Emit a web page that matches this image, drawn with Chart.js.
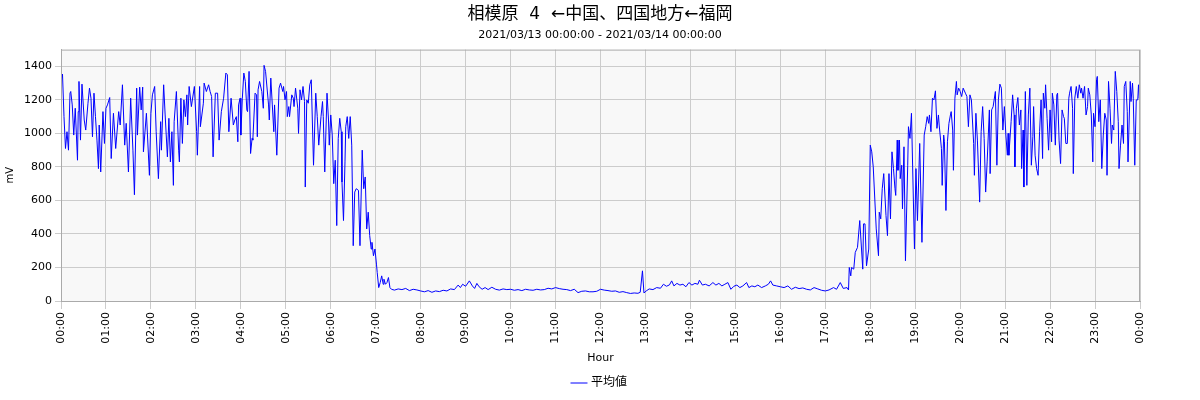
<!DOCTYPE html>
<html lang="ja">
  <head>
    <meta charset="UTF-8" />
    <title>相模原 4 ←中国、四国地方←福岡</title>
    <script src="https://cdn.jsdelivr.net/npm/chart.js@4.4.1/dist/chart.umd.min.js"></script>
    <style>
      html, body { margin: 0; padding: 0; background: #fff; }
      .wrap { width: 1200px; height: 400px; }
    </style>
  </head>
  <body>
    <div class="wrap"><canvas id="chart" width="1200" height="400"></canvas></div>
    <script>
      const chartTitle = "相模原  4  ←中国、四国地方←福岡";
      const chartSubtitle = "2021/03/13 00:00:00 - 2021/03/14 00:00:00";
      const seriesLabel = "平均値";
      const xTitle = "Hour";
      const yTitle = "mV";

      // minutes since 00:00
      const minutes = [
        0, 2, 4, 6, 8, 10, 12, 13, 15, 17, 19, 22, 23, 24, 26, 28, 31, 33, 36, 38,
        40, 42, 44, 46, 48, 50, 51, 53, 56, 58, 60, 62, 65, 67, 70, 73, 77, 79, 82, 85,
        87, 90, 93, 96, 98, 101, 102, 105, 107, 109, 110, 114, 118, 120, 122, 125, 127, 130, 133, 134,
        137, 139, 142, 144, 146, 148, 150, 151, 154, 157, 158, 160, 162, 164, 166, 168, 169, 171, 174, 178,
        181, 182, 185, 186, 190, 191, 194, 197, 199, 201, 203, 206, 209, 211, 214, 217, 220, 222, 224, 227,
        230, 232, 234, 236, 237, 239, 240, 242, 244, 246, 248, 249, 251, 253, 255, 256, 259, 261, 262, 263,
        265, 268, 270, 271, 273, 277, 278, 280, 282, 284, 285, 288, 291, 293, 296, 297, 299, 301, 302, 304,
        305, 308, 310, 311, 313, 316, 317, 319, 321, 323, 325, 326, 328, 330, 332, 334, 337, 340, 342, 344,
        347, 349, 350, 352, 355, 357, 358, 360, 362, 364, 366, 368, 370, 372, 374, 375, 377, 379, 380, 382,
        384, 386, 388, 390, 392, 394, 397, 399, 402, 404, 406, 408, 410, 412, 414, 415, 417, 419, 421, 422,
        424, 426, 428, 430, 431, 433, 435, 437, 439, 441, 445, 450, 455, 460, 465, 470, 475, 480, 485, 490,
        495, 500, 505, 510, 515, 520, 525, 530, 533, 536, 540, 545, 549, 552, 555, 558, 562, 566, 570, 575,
        580, 585, 590, 595, 600, 605, 610, 615, 620, 625, 630, 635, 640, 645, 650, 655, 660, 665, 670, 675,
        680, 685, 690, 695, 700, 705, 710, 715, 720, 725, 730, 735, 740, 745, 750, 755, 760, 765, 770, 773,
        776, 778, 781, 785, 790, 795, 800, 804, 808, 812, 815, 818, 822, 826, 830, 834, 838, 842, 846, 850,
        852, 856, 860, 865, 870, 874, 878, 882, 886, 890, 894, 898, 902, 906, 910, 915, 918, 922, 926, 930,
        935, 940, 944, 947, 950, 955, 960, 965, 970, 975, 980, 985, 990, 995, 1000, 1005, 1010, 1015, 1020, 1025,
        1031, 1035, 1040, 1044, 1049, 1051, 1052, 1054, 1055, 1058, 1060, 1063, 1066, 1070, 1071, 1073, 1075, 1078, 1080, 1082,
        1084, 1088, 1091, 1092, 1094, 1096, 1098, 1101, 1103, 1105, 1107, 1109, 1111, 1113, 1114, 1116, 1117, 1119, 1120, 1122,
        1123, 1125, 1127, 1130, 1131, 1133, 1135, 1139, 1141, 1143, 1146, 1149, 1152, 1154, 1156, 1158, 1159, 1161, 1163, 1165,
        1167, 1169, 1171, 1172, 1175, 1176, 1178, 1179, 1181, 1183, 1185, 1187, 1188, 1190, 1191, 1193, 1195, 1196, 1198, 1200,
        1202, 1204, 1207, 1209, 1211, 1213, 1215, 1218, 1219, 1221, 1223, 1226, 1228, 1230, 1232, 1234, 1236, 1239, 1240, 1242,
        1244, 1247, 1249, 1251, 1253, 1255, 1257, 1259, 1261, 1263, 1264, 1265, 1268, 1270, 1272, 1273, 1275, 1277, 1279, 1281,
        1282, 1284, 1285, 1287, 1289, 1291, 1293, 1295, 1297, 1298, 1300, 1302, 1304, 1306, 1308, 1310, 1311, 1313, 1314, 1316,
        1318, 1320, 1322, 1323, 1325, 1327, 1329, 1330, 1332, 1334, 1336, 1338, 1339, 1341, 1343, 1345, 1346, 1348, 1350, 1351,
        1353, 1355, 1357, 1359, 1361, 1362, 1364, 1366, 1368, 1370, 1371, 1373, 1375, 1377, 1378, 1380, 1382, 1383, 1385, 1387,
        1389, 1391, 1393, 1395, 1396, 1398, 1400, 1402, 1403, 1405, 1407, 1409, 1411, 1412, 1414, 1416, 1418, 1419, 1421, 1423,
        1424, 1427, 1428, 1430, 1431, 1433, 1435, 1437, 1438, 1439, 1440
      ];

      const averageMv = [
        1310, 1354, 1100, 910, 1010, 900, 1240, 1250, 1170, 990, 1150, 840, 1130, 1310, 960, 1294, 1080, 1020, 1180, 1270,
        1210, 980, 1240, 1100, 960, 790, 1050, 770, 1130, 940, 1150, 1170, 1214, 850, 1120, 910, 1130, 1050, 1290, 930,
        1060, 770, 1210, 900, 634, 1270, 990, 1276, 1140, 1276, 890, 1120, 750, 1120, 1230, 1280, 1010, 730, 1070, 900,
        1290, 1110, 860, 1090, 830, 1010, 690, 1070, 1250, 900, 830, 1210, 940, 1200, 1100, 1230, 1050, 1280, 1160, 1280,
        1010, 870, 1280, 1040, 1180, 1300, 1250, 1290, 1250, 1220, 860, 1240, 1240, 960, 1130, 1210, 1360, 1350, 1010, 1210,
        1050, 1080, 1100, 950, 1170, 1210, 990, 1210, 1360, 1310, 1140, 1130, 1370, 880, 970, 960, 1240, 1230, 980, 1260,
        1310, 1250, 1150, 1406, 1370, 1170, 1080, 1330, 1170, 1010, 1170, 870, 1270, 1300, 1250, 1280, 1200, 1250, 1100, 1160,
        1100, 1230, 1210, 1160, 1270, 1150, 1000, 1260, 1200, 1280, 1190, 680, 1200, 1180, 1290, 1320, 810, 1240, 1100, 930,
        1100, 1190, 1100, 770, 1240, 1080, 930, 1110, 990, 700, 840, 450, 970, 1090, 1010, 710, 480, 830, 1040, 1100,
        970, 1100, 930, 330, 650, 670, 660, 330, 900, 670, 740, 430, 530, 390, 310, 350, 270, 310, 220, 170,
        80, 110, 150, 100, 130, 100, 110, 140, 80, 70, 65, 72, 68, 75, 62, 70, 66, 60, 55, 62,
        52, 60, 56, 64, 60, 72, 68, 95, 80, 100, 88, 120, 90, 75, 105, 85, 70, 80, 68, 82,
        70, 65, 72, 68, 70, 64, 68, 62, 70, 66, 64, 70, 66, 68, 76, 72, 80, 74, 70, 68,
        62, 70, 50, 58, 60, 55, 55, 58, 70, 65, 62, 58, 60, 52, 56, 50, 45, 48, 46, 52,
        180, 48, 60, 72, 68, 80, 76, 100, 88, 96, 120, 90, 105, 95, 100, 85, 110, 95, 105, 100,
        124, 95, 100, 90, 110, 95, 105, 90, 100, 110, 70, 88, 95, 80, 90, 110, 80, 90, 85, 95,
        80, 90, 100, 120, 95, 90, 85, 80, 90, 70, 82, 74, 78, 70, 66, 80, 72, 64, 60, 66,
        80, 70, 110, 75, 80, 66, 200, 150, 200, 190, 290, 320, 480, 190, 460, 460, 210, 310, 930, 890,
        800, 430, 270, 530, 490, 670, 760, 510, 390, 760, 490, 890, 790, 670, 630, 960, 780, 960, 730, 810,
        550, 920, 240, 810, 1040, 970, 1120, 310, 790, 480, 940, 350, 990, 1040, 1100, 1060, 1110, 1010, 1210, 1200,
        1254, 1030, 1110, 1050, 910, 690, 990, 950, 540, 950, 1060, 1110, 1130, 1020, 780, 1210, 1310, 1230, 1270, 1250,
        1220, 1270, 1240, 1220, 1040, 1230, 1200, 940, 750, 1120, 960, 590, 1010, 1160, 970, 650, 830, 1140, 760, 1140,
        1160, 1250, 810, 1200, 1294, 1270, 1020, 1160, 990, 870, 1000, 870, 1070, 1230, 1110, 800, 1150, 1214, 1050, 1140,
        790, 1020, 680, 1250, 690, 1110, 1270, 810, 980, 1160, 870, 790, 750, 1010, 1200, 850, 1240, 1150, 1290, 1090,
        900, 1140, 950, 1240, 1170, 930, 1230, 1240, 960, 820, 1140, 1100, 1090, 940, 940, 1210, 1240, 1280, 1150, 760,
        1210, 1280, 1210, 1290, 1240, 1270, 1210, 1280, 1110, 1160, 1270, 1230, 1110, 830, 1120, 1040, 1320, 1340, 1070, 1200,
        790, 990, 1120, 1080, 750, 1310, 1150, 940, 1050, 1020, 1370, 1250, 1070, 790, 930, 1050, 940, 1280, 1310, 1130,
        830, 1310, 1190, 1300, 1210, 810, 1200, 1200, 1290, 1210, 1230
      ];

      const yMax = 1500;
      const yStep = 200;
      const xStep = 60;

      const points = minutes.map((m, i) => ({ x: m, y: averageMv[i] }));

      const fontFamily = "'DejaVu Sans', 'Noto Sans CJK JP', sans-serif";

      // grey plot background plus a frame round the plot area
      const plotBackground = {
        id: "plotBackground",
        beforeDraw(chart) {
          const { ctx, chartArea: a } = chart;
          ctx.save();
          ctx.fillStyle = "#f8f8f8";
          ctx.fillRect(a.left, a.top, a.right - a.left, a.bottom - a.top);
          ctx.restore();
        },
        afterDatasetsDraw(chart) {
          const { ctx, chartArea: a } = chart;
          ctx.save();
          ctx.strokeStyle = "#aaaaaa";
          ctx.lineWidth = 1;
          ctx.strokeRect(a.left + 0.5, a.top + 0.5, a.right - a.left - 1, a.bottom - a.top);
          ctx.restore();
        },
      };

      new Chart(document.getElementById("chart"), {
        type: "line",
        data: {
          datasets: [
            {
              label: seriesLabel,
              data: points,
              borderColor: "#0000ff",
              backgroundColor: "#0000ff",
              borderWidth: 1,
              pointRadius: 0,
              tension: 0,
              fill: false,
            },
          ],
        },
        options: {
          responsive: false,
          animation: false,
          layout: { padding: { left: 0, right: 0, top: 0, bottom: 1 } },
          plugins: {
            title: {
              display: true,
              text: chartTitle,
              color: "#000",
              font: { family: fontFamily, size: 17, weight: "normal" },
              padding: { top: 4, bottom: 1 },
            },
            subtitle: {
              display: true,
              text: chartSubtitle,
              color: "#000",
              font: { family: fontFamily, size: 11 },
              padding: { top: 3, bottom: 8 },
            },
            legend: {
              position: "bottom",
              labels: {
                usePointStyle: true,
                pointStyle: "line",
                boxWidth: 12,
                padding: 8,
                color: "#000",
                font: { family: fontFamily, size: 12 },
              },
            },
            tooltip: { enabled: false },
          },
          scales: {
            x: {
              type: "linear",
              min: 0,
              max: 1440,
              afterFit(scale) {
                scale.height = 68;
              },
              ticks: {
                stepSize: xStep,
                minRotation: 90,
                maxRotation: 90,
                color: "#000",
                font: { family: fontFamily, size: 11 },
                callback: (v) => String((v / 60) % 24).padStart(2, "0") + ":00",
              },
              grid: { color: "#cccccc", tickLength: 8 },
              border: { color: "#aaaaaa" },
              title: {
                display: true,
                text: xTitle,
                color: "#000",
                font: { family: fontFamily, size: 11 },
              },
            },
            y: {
              min: 0,
              max: yMax,
              afterFit(scale) {
                scale.width = 61;
              },
              afterBuildTicks(scale) {
                scale.ticks = scale.ticks.filter((t) => t.value % yStep === 0);
              },
              ticks: {
                stepSize: yStep,
                color: "#000",
                font: { family: fontFamily, size: 11 },
                callback: (v) => String(v),
              },
              grid: { color: "#cccccc", tickLength: 6 },
              border: { color: "#aaaaaa" },
              title: {
                display: true,
                text: yTitle,
                color: "#000",
                font: { family: fontFamily, size: 10 },
              },
            },
            // empty right-hand strip so the plot ends where the reference's does
            spacer: {
              type: "linear",
              position: "right",
              display: true,
              min: 0,
              max: yMax,
              afterFit(scale) {
                scale.width = 60;
              },
              ticks: { display: false },
              grid: { display: false, drawTicks: false },
              border: { display: false },
            },
          },
        },
        plugins: [plotBackground],
      });
    </script>
  </body>
</html>
